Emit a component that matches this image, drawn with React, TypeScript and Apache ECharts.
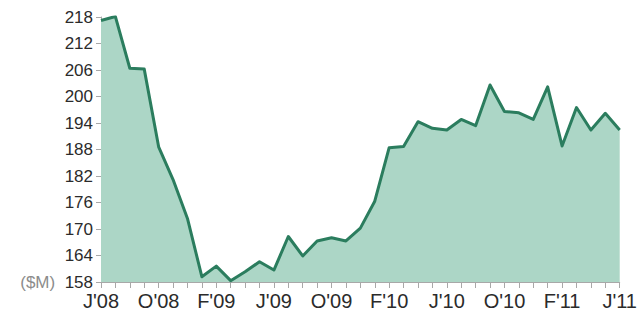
import React, { useEffect, useRef } from "react";
import * as echarts from "echarts";

// Monthly periods, June 2008 through June 2011
const months: string[] = [
  "2008-06", "2008-07", "2008-08", "2008-09", "2008-10", "2008-11", "2008-12",
  "2009-01", "2009-02", "2009-03", "2009-04", "2009-05", "2009-06", "2009-07",
  "2009-08", "2009-09", "2009-10", "2009-11", "2009-12", "2010-01", "2010-02",
  "2010-03", "2010-04", "2010-05", "2010-06", "2010-07", "2010-08", "2010-09",
  "2010-10", "2010-11", "2010-12", "2011-01", "2011-02", "2011-03", "2011-04",
  "2011-05", "2011-06",
];

// Monthly revenue, $M
const revenue: number[] = [
  217.2, 218.1, 206.4, 206.2, 188.6, 181.2, 172.4, 159.2, 161.6, 158.3,
  160.3, 162.6, 160.7, 168.3, 163.9, 167.3, 168.0, 167.3, 170.2, 176.3,
  188.4, 188.7, 194.3, 192.8, 192.4, 194.8, 193.4, 202.6, 196.6, 196.3,
  194.8, 202.2, 188.8, 197.5, 192.4, 196.2, 192.4,
];

const yTicks: number[] = [158, 164, 170, 176, 182, 188, 194, 200, 206, 212, 218];

const monthInitials = ["J", "F", "M", "A", "M", "J", "J", "A", "S", "O", "N", "D"];

function shortMonth(ym: string): string {
  const [y, m] = ym.split("-");
  return monthInitials[Number(m) - 1] + "'" + y.slice(2);
}

export default function App() {
  const ref = useRef<HTMLDivElement>(null);

  useEffect(() => {
    document.body.style.margin = "0";
    if (!ref.current) return;
    const chart = echarts.init(ref.current, null, { renderer: "svg" });
    const font = "'Liberation Sans', Arial, Helvetica, sans-serif";
    chart.setOption({
      animation: false,
      backgroundColor: "#ffffff",
      grid: { left: 101, right: 17, top: 17, bottom: 38 },
      xAxis: {
        type: "category",
        data: months,
        boundaryGap: false,
        axisLine: { show: true, lineStyle: { color: "#a8a8a8", width: 1 } },
        axisTick: {
          show: true,
          interval: 0,
          length: 6,
          lineStyle: { color: "#a8a8a8", width: 1 },
        },
        axisLabel: {
          interval: 3,
          margin: 9,
          color: "#2b2b2b",
          fontFamily: font,
          fontSize: 20,
          formatter: (v: string) => shortMonth(v),
        },
        splitLine: { show: false },
      },
      yAxis: {
        type: "value",
        min: 158,
        max: 218,
        axisLine: { show: true, lineStyle: { color: "#a8a8a8", width: 1 } },
        axisTick: {
          show: true,
          length: 5,
          customValues: yTicks,
          lineStyle: { color: "#a8a8a8", width: 1 },
        },
        axisLabel: {
          margin: 8,
          color: "#2b2b2b",
          fontFamily: font,
          fontSize: 17,
          customValues: yTicks,
          formatter: (v: number) => (v === 158 ? "{u|($M)}  " + v : String(v)),
          rich: {
            u: { color: "#8c8c8c", fontFamily: font, fontSize: 17 },
          },
        },
        splitLine: { show: false },
      },
      series: [
        {
          type: "line",
          data: revenue,
          symbol: "none",
          lineStyle: { color: "#2b7d5e", width: 3, join: "round" },
          areaStyle: { color: "#acd6c6", opacity: 1 },
          z: 1,
        },
      ],
    });
    return () => chart.dispose();
  }, []);

  return <div ref={ref} style={{ width: 640, height: 320 }} />;
}
